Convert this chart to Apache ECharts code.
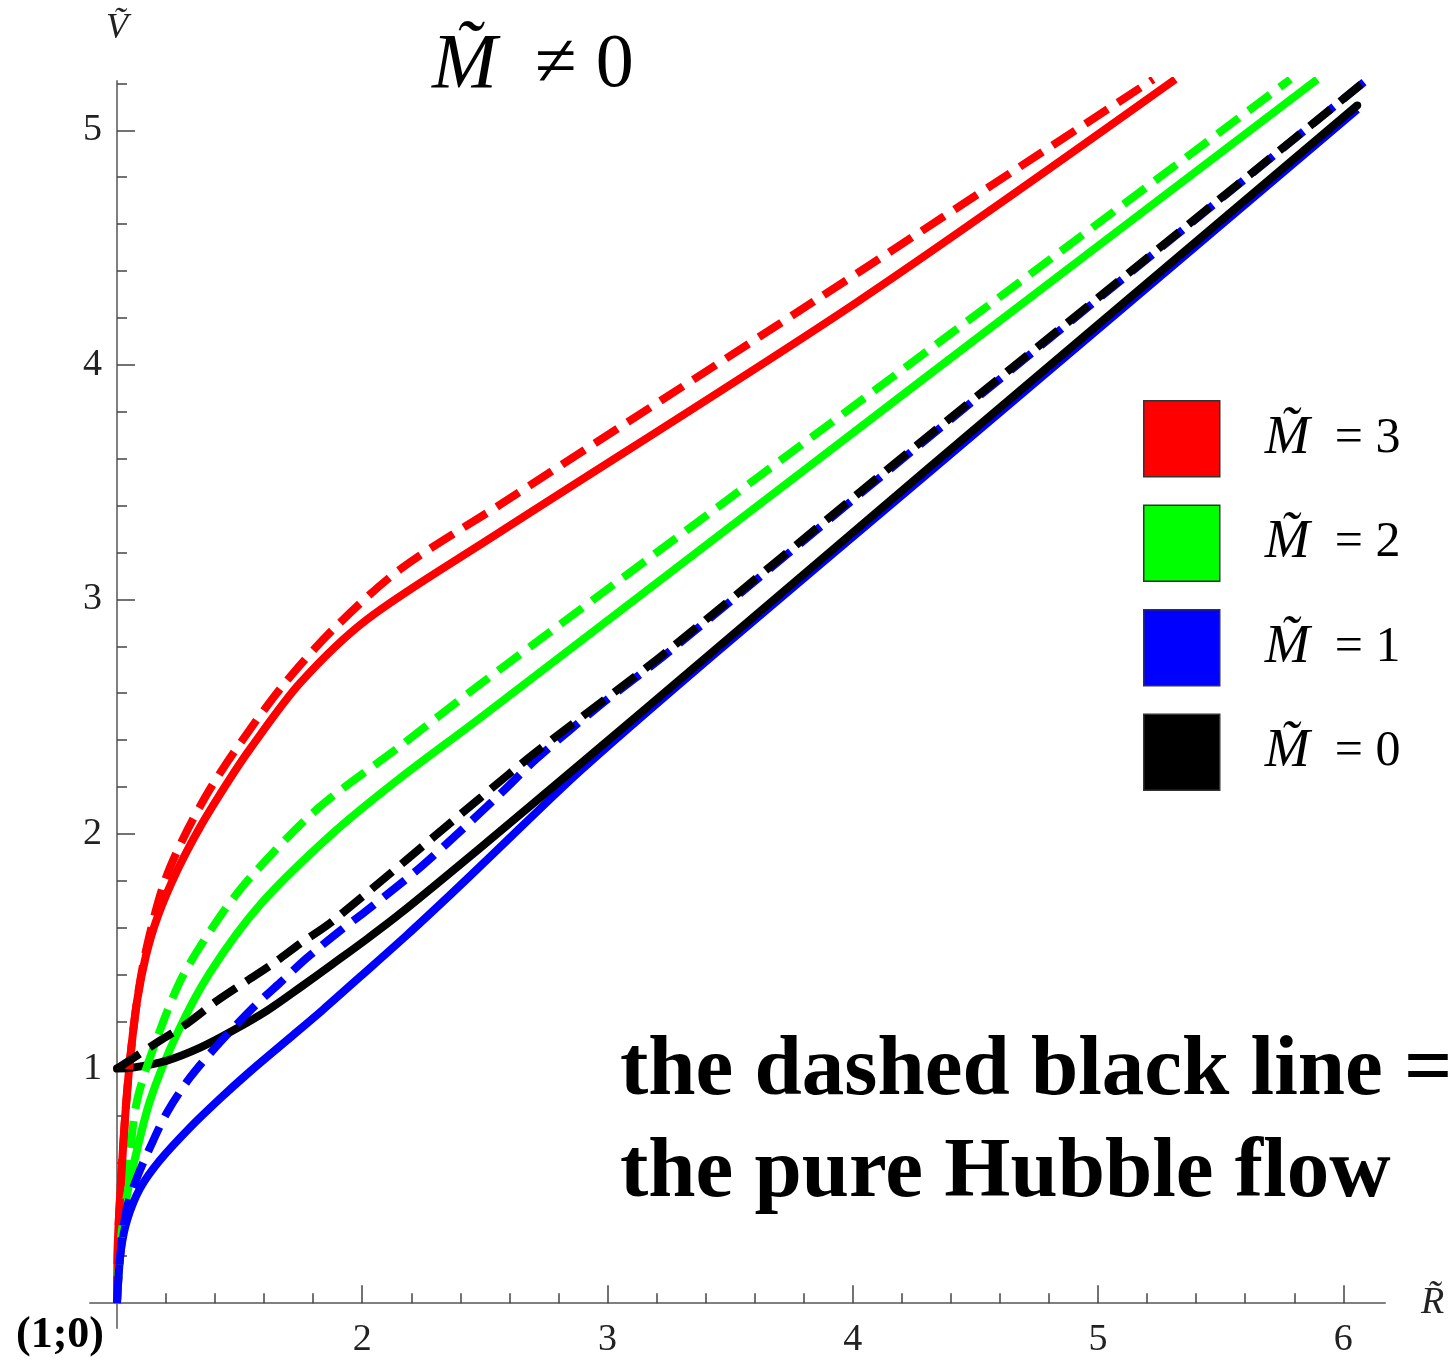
<!DOCTYPE html>
<html>
<head>
<meta charset="utf-8">
<title>V(R) for several masses</title>
<script src="https://cdn.jsdelivr.net/npm/echarts@6/dist/echarts.min.js"></script>
<style>
  html, body { margin: 0; padding: 0; background: #fff; }
  #chart { width: 1456px; height: 1361px; }
</style>
</head>
<body>
<div id="chart"></div>
<script>
// axis ranges (axes cross at R = 1, V = 0)
const xMin = 0.89, xMax = 6.17
const yMin = -0.106, yMax = 5.21
const xMajorTicks = [2, 3, 4, 5, 6]
const xMinorTicks = [1.2, 1.4, 1.6, 1.8, 2.2, 2.4, 2.6, 2.8, 3.2, 3.4, 3.6, 3.8, 4.2, 4.4, 4.6, 4.8, 5.2, 5.4, 5.6, 5.8]
const yMajorTicks = [1, 2, 3, 4, 5]
const yMinorTicks = [0.2, 0.4, 0.6, 0.8, 1.2, 1.4, 1.6, 1.8, 2.2, 2.4, 2.6, 2.8, 3.2, 3.4, 3.6, 3.8, 4.2, 4.4, 4.6, 4.8, 5.2]

const legendNames = ['M\u0303 = 3', 'M\u0303 = 2', 'M\u0303 = 1', 'M\u0303 = 0']
const colors = ['#ff0000', '#00ff00', '#0000ff', '#000000']

// curves, [R, V]
const m3Solid = [[1.000, 0.000], [1.004, 0.268], [1.016, 0.511], [1.033, 0.791], [1.053, 1.034], [1.082, 1.289], [1.118, 1.481], [1.167, 1.651], [1.245, 1.843], [1.339, 2.030], [1.449, 2.217], [1.542, 2.362], [1.746, 2.643], [2.020, 2.915], [2.521, 3.260], [4.018, 4.268], [5.315, 5.217]]
const m3Dashed = [[1.000, 0.000], [1.004, 0.268], [1.016, 0.511], [1.033, 0.791], [1.053, 1.034], [1.082, 1.289], [1.118, 1.502], [1.188, 1.779], [1.269, 1.979], [1.379, 2.191], [1.514, 2.404], [1.677, 2.634], [1.881, 2.872], [2.154, 3.128], [2.562, 3.404], [3.838, 4.268], [5.225, 5.217]]
const m2Solid = [[1.000, 0.000], [1.008, 0.162], [1.020, 0.311], [1.037, 0.438], [1.065, 0.579], [1.135, 0.864], [1.245, 1.149], [1.379, 1.409], [1.583, 1.698], [1.881, 2.004], [2.154, 2.238], [2.480, 2.494], [4.316, 3.962], [5.894, 5.217]]
const m2Dashed = [[1.000, 0.000], [1.008, 0.162], [1.020, 0.332], [1.041, 0.511], [1.082, 0.864], [1.175, 1.162], [1.269, 1.396], [1.408, 1.630], [1.542, 1.813], [1.816, 2.106], [2.154, 2.374], [2.480, 2.638], [4.316, 4.068], [5.784, 5.217]]
const m1Solid = [[1.000, 0.000], [1.004, 0.077], [1.016, 0.226], [1.041, 0.353], [1.094, 0.489], [1.175, 0.609], [1.298, 0.749], [1.420, 0.872], [1.542, 0.987], [1.706, 1.132], [1.840, 1.251], [1.991, 1.391], [2.183, 1.570], [2.358, 1.740], [2.521, 1.902], [2.888, 2.268], [3.431, 2.762], [4.316, 3.545], [6.057, 5.089]]
const m1Dashed = [[1.000, 0.000], [1.008, 0.140], [1.020, 0.268], [1.041, 0.409], [1.082, 0.536], [1.135, 0.664], [1.204, 0.813], [1.298, 0.962], [1.408, 1.098], [1.555, 1.260], [1.665, 1.366], [1.775, 1.472], [1.909, 1.587], [2.011, 1.668], [2.248, 1.868], [2.562, 2.170], [2.713, 2.323], [2.970, 2.549], [3.243, 2.770], [4.254, 3.643], [6.098, 5.217]]
const m0Solid = [[1.000, 1.000], [1.065, 1.004], [1.204, 1.034], [1.339, 1.089], [1.473, 1.162], [1.612, 1.247], [1.746, 1.345], [1.881, 1.447], [2.020, 1.553], [2.154, 1.660], [2.480, 1.940], [2.888, 2.298], [3.431, 2.779], [4.316, 3.566], [6.057, 5.106]]
const hubbleFlow = [[1.000, 1.000], [1.094, 1.064], [1.175, 1.119], [1.285, 1.191], [1.408, 1.289], [1.530, 1.374], [1.636, 1.447], [1.746, 1.532], [1.881, 1.630], [2.480, 2.153], [2.713, 2.353], [3.243, 2.779], [4.254, 3.651], [6.098, 5.217]]

const serifFont = "'Liberation Serif', 'Times New Roman', serif"

const chart = echarts.init(document.getElementById('chart'))

const gridLeft = 90, gridTop = 81, gridWidth = 1295, gridHeight = 1247
// shift the axes so they cross at (1; 0)
const xAxisShift = -(0 - yMin) * gridHeight / (yMax - yMin)
const yAxisShift = -(1 - xMin) * gridWidth / (xMax - xMin)

const axisLineStyle = { color: '#808080', width: 2 }
const tickLineStyle = { color: '#444', width: 1.5 }
const tickLabel = { fontFamily: serifFont, fontSize: 38, color: '#222' }

const makeLine = (name, data, color, dashed, cap) => ({
  name,
  type: 'line',
  data,
  symbol: 'none',
  smooth: 0.3,
  lineStyle: { color, width: 8, type: dashed ? [27, 12] : 'solid', cap: cap || 'butt', join: 'round' },
  itemStyle: { color },
  emphasis: { disabled: true }
})

const series = [
  makeLine(legendNames[0], m3Solid, colors[0], false),
  makeLine(legendNames[1], m2Solid, colors[1], false),
  makeLine(legendNames[2], m1Solid, colors[2], false),
  makeLine(legendNames[3], m0Solid, colors[3], false, 'round'),
  makeLine(legendNames[1], m2Dashed, colors[1], true),
  makeLine(legendNames[0], m3Dashed, colors[0], true),
  makeLine(legendNames[2], m1Dashed, colors[2], true),
  makeLine(legendNames[3], hubbleFlow, colors[3], true)
]

const option = {
  animation: false,
  backgroundColor: '#fff',
  grid: { left: gridLeft, top: gridTop, width: gridWidth, height: gridHeight, containLabel: false, outerBoundsMode: 'none' },
  xAxis: [
    {
      type: 'value',
      min: xMin,
      max: xMax,
      position: 'bottom',
      offset: xAxisShift,
      name: 'R\u0303',
      nameLocation: 'end',
      nameGap: 36,
      nameTextStyle: { fontFamily: serifFont, fontStyle: 'italic', fontSize: 38, color: '#222' },
      axisLine: { show: true, onZero: false, lineStyle: axisLineStyle },
      axisTick: { show: true, inside: true, length: 18, customValues: xMajorTicks, lineStyle: tickLineStyle },
      axisLabel: Object.assign({ customValues: xMajorTicks, margin: 18 }, tickLabel),
      splitLine: { show: false }
    },
    {
      type: 'value',
      min: xMin,
      max: xMax,
      position: 'bottom',
      offset: xAxisShift,
      axisLine: { show: false, onZero: false },
      axisTick: { show: true, inside: true, length: 10, customValues: xMinorTicks, lineStyle: tickLineStyle },
      axisLabel: { show: false },
      splitLine: { show: false }
    }
  ],
  yAxis: [
    {
      type: 'value',
      min: yMin,
      max: yMax,
      position: 'left',
      offset: yAxisShift,
      name: 'V\u0303',
      nameLocation: 'end',
      nameGap: 34,
      nameTextStyle: { fontFamily: serifFont, fontStyle: 'italic', fontSize: 36, color: '#222' },
      axisLine: { show: true, onZero: false, lineStyle: axisLineStyle },
      axisTick: { show: true, inside: true, length: 18, customValues: yMajorTicks, lineStyle: tickLineStyle },
      axisLabel: Object.assign({ customValues: yMajorTicks, margin: 15 }, tickLabel),
      splitLine: { show: false }
    },
    {
      type: 'value',
      min: yMin,
      max: yMax,
      position: 'left',
      offset: yAxisShift,
      axisLine: { show: false, onZero: false },
      axisTick: { show: true, inside: true, length: 10, customValues: yMinorTicks, lineStyle: tickLineStyle },
      axisLabel: { show: false },
      splitLine: { show: false }
    }
  ],
  legend: {
    data: legendNames,
    orient: 'vertical',
    left: 1143,
    top: 400,
    padding: 0,
    icon: 'rect',
    itemWidth: 76,
    itemHeight: 76,
    itemGap: 27,
    selectedMode: false,
    itemStyle: { borderColor: '#333', borderWidth: 1.5 },
    formatter: name => `{m|M\u0303}{r|  = ${name.slice(-1)}}`,
    textStyle: {
      rich: {
        m: { fontFamily: serifFont, fontStyle: 'italic', fontSize: 54, color: '#000', padding: [0, 0, 0, 40] },
        r: { fontFamily: serifFont, fontSize: 50, color: '#000' }
      }
    }
  },
  graphic: [
    {
      type: 'text',
      x: 432,
      y: 66,
      style: {
        text: '{m|M\u0303}{r|  \u2260 0}',
        verticalAlign: 'middle',
        rich: {
          m: { fontFamily: serifFont, fontStyle: 'italic', fontSize: 78, fill: '#000' },
          r: { fontFamily: serifFont, fontSize: 76, fill: '#000' }
        }
      }
    },
    {
      type: 'text',
      x: 620,
      y: 1072,
      style: { text: 'the dashed black line =', font: `bold 85px ${serifFont}`, fill: '#000', verticalAlign: 'middle' }
    },
    {
      type: 'text',
      x: 620,
      y: 1174,
      style: { text: 'the pure Hubble flow', font: `bold 85px ${serifFont}`, fill: '#000', verticalAlign: 'middle' }
    },
    {
      type: 'text',
      x: 60,
      y: 1336,
      style: { text: '(1;0)', font: `bold 44px ${serifFont}`, fill: '#000', align: 'center', verticalAlign: 'middle' }
    }
  ],
  series
}

chart.setOption(option)
window.addEventListener('resize', () => chart.resize())
</script>
</body>
</html>
